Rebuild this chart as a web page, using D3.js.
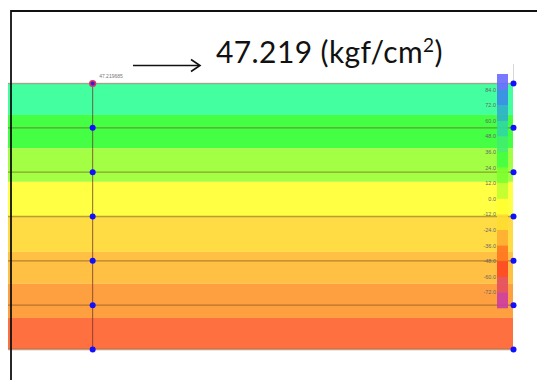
<!DOCTYPE html>
<html>
<head>
<meta charset="utf-8">
<script src="https://cdn.jsdelivr.net/npm/d3@7"></script>
<style>
  html, body { margin: 0; padding: 0; background: #fff; }
  svg { display: block; }
</style>
</head>
<body>
<script>
// node levels (depth) and the two node columns
const nodeDepths = [0, 1, 2, 3, 4, 5, 6];
const nodeColumns = [1, 6];
// contour bands: depth boundaries and fill colours
const bandEdges = [0, 0.72, 1.47, 2.23, 3.02, 3.81, 4.53, 5.30, 6];
const bandColors = ['#44ffa0', '#44ff44', '#a2ff44', '#ffff44', '#ffdc44', '#ffc044', '#ffa040', '#ff7040'];
// legend
const legendTicks = [84, 72, 60, 48, 36, 24, 12, 0, -12, -24, -36, -48, -60, -72];
const legendColors = ['#6a6aff', '#3a88e8', '#30b0c8', '#30d8a0', '#40ee70', '#40ff40', '#7cff30',
  '#c0ff30', '#ffff30', '#ffdc30', '#ffac30', '#ff7420', '#ff4420', '#e44c60', '#cc3ca0'];
const pickValue = '47.219685';
const headline = '47.219 (kgf/cm';

const width = 537;
const height = 380;

const svg = d3.select('body')
  .append('svg')
  .attr('width', width)
  .attr('height', height);

const x = d3.scaleLinear().domain([0, 6]).range([8, 513]);
const y = d3.scaleLinear().domain([0, 6]).range([83, 349]);

// bands
svg.append('g')
  .selectAll('rect')
  .data(bandColors)
  .join('rect')
  .attr('x', x(0))
  .attr('y', (d, i) => y(bandEdges[i]))
  .attr('width', x(6) - x(0))
  .attr('height', (d, i) => y(bandEdges[i + 1]) - y(bandEdges[i]))
  .attr('fill', d => d);

// element lines
svg.append('g')
  .selectAll('line')
  .data(nodeDepths)
  .join('line')
  .attr('x1', x(0))
  .attr('x2', x(6))
  .attr('y1', d => y(d) + 0.5)
  .attr('y2', d => y(d) + 0.5)
  .attr('stroke', d => (d === 0 ? 'rgba(200,120,120,0.6)' : 'rgba(110,70,20,0.5)'))
  .attr('stroke-width', 1.4);

svg.append('line')
  .attr('x1', x(1) + 0.5)
  .attr('x2', x(1) + 0.5)
  .attr('y1', y(0))
  .attr('y2', y(6))
  .attr('stroke', 'rgba(110,50,40,0.75)')
  .attr('stroke-width', 1);

svg.append('line')
  .attr('x1', x(6) + 0.5)
  .attr('x2', x(6) + 0.5)
  .attr('y1', 64)
  .attr('y2', y(0))
  .attr('stroke', '#d8d8d8');

// legend bar
const ly = d3.scaleLinear().domain([96, -84]).range([74, 308]);
const legend = svg.append('g');
legend.selectAll('rect')
  .data(legendColors)
  .join('rect')
  .attr('x', 497)
  .attr('y', (d, i) => ly(96 - 12 * i))
  .attr('width', 11)
  .attr('height', (d, i) => ly(84 - 12 * i) - ly(96 - 12 * i) + 0.3)
  .attr('fill', d => d)
  .attr('opacity', 0.9);

legend.selectAll('text')
  .data(legendTicks)
  .join('text')
  .attr('x', 496)
  .attr('y', d => ly(d) + 2)
  .attr('text-anchor', 'end')
  .attr('font-family', 'Liberation Sans, sans-serif')
  .attr('font-size', 5.5)
  .attr('fill', '#666')
  .text(d => d.toFixed(1));

// nodes
const nodes = nodeColumns.flatMap(c => nodeDepths.map(d => ({ c, d })));
svg.append('g')
  .selectAll('circle')
  .data(nodes)
  .join('circle')
  .attr('cx', d => x(d.c) + 0.5)
  .attr('cy', d => y(d.d) + 0.5)
  .attr('r', d => (d.c === 1 && d.d === 0 ? 3.6 : 3))
  .attr('fill', d => (d.c === 1 && d.d === 0 ? '#e0306a' : '#1010ff'));
svg.append('circle')
  .attr('cx', x(1) + 0.5)
  .attr('cy', y(0) + 0.5)
  .attr('r', 2)
  .attr('fill', '#3020d0');

svg.append('text')
  .attr('x', x(1) + 7)
  .attr('y', 78)
  .attr('font-family', 'Liberation Sans, sans-serif')
  .attr('font-size', 5)
  .attr('fill', '#777')
  .text(pickValue);

// arrow and headline
svg.append('line')
  .attr('x1', 133).attr('x2', 199)
  .attr('y1', 65.5).attr('y2', 65.5)
  .attr('stroke', '#111').attr('stroke-width', 1.6);
svg.append('path')
  .attr('d', 'M191,59.5 L200,65.5 L191,71.5')
  .attr('fill', 'none').attr('stroke', '#111').attr('stroke-width', 1.6);

const title = svg.append('text')
  .attr('x', 216)
  .attr('y', 63)
  .attr('font-family', 'Lato, sans-serif')
  .attr('font-size', 30)
  .attr('letter-spacing', 0.4)
  .attr('fill', '#111');
title.append('tspan').text(headline);
title.append('tspan').attr('font-size', 19).attr('dy', -11).text('2');
title.append('tspan').attr('dy', 11).text(')');

// frame
svg.append('path')
  .attr('d', `M11,${height} L11,11 L${width},11`)
  .attr('fill', 'none')
  .attr('stroke', '#111')
  .attr('stroke-width', 1.8);
</script>
</body>
</html>
